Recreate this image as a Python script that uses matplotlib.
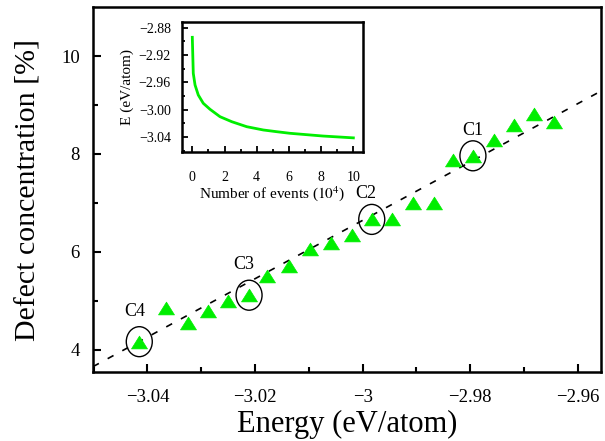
import matplotlib
matplotlib.use("Agg")
import matplotlib.pyplot as plt
from matplotlib.patches import Ellipse
from matplotlib.path import Path
from matplotlib.ticker import MultipleLocator, FuncFormatter
import numpy as np

plt.rcParams['font.family'] = ['Liberation Serif', 'DejaVu Serif']
plt.rcParams['mathtext.fontset'] = 'stix'

# Main data: energy (eV/atom) vs defect concentration (%)
energy = [-3.0415, -3.0365, -3.0324, -3.0288, -3.0251, -3.0211, -3.0178, -3.0136,
          -3.0097, -3.0059, -3.0020, -2.9983, -2.9945, -2.9906, -2.9868, -2.9832,
          -2.9795, -2.9756, -2.9719, -2.9682, -2.9645]
defect = [4.16, 4.84, 4.55, 4.79, 4.99, 5.11, 5.51, 5.71,
          6.06, 6.18, 6.34, 6.66, 6.66, 7.00, 7.00, 7.88,
          7.96, 8.28, 8.58, 8.81, 8.65]
# labelled configurations (index into the arrays)
labels = ['C1', 'C2', 'C3', 'C4']
label_idx = [16, 11, 5, 0]
# linear fit
fit_slope = 59.68
fit_intercept = 185.68

# Inset: energy vs number of events (10^4)
events = [0.0, 0.06, 0.17, 0.37, 0.68, 1.10, 1.72, 2.45, 3.38, 4.41, 5.24, 6.05, 8.10, 10.0]
e_inset = [-2.8942, -2.9467, -2.9638, -2.9784, -2.9905, -2.9993, -3.0101, -3.0174,
           -3.0247, -3.0295, -3.0320, -3.0343, -3.0383, -3.0410]

green = '#00ee00'

# slightly flattened triangle marker
tri = Path([(-1, -0.8), (1, -0.8), (0, 0.8), (-1, -0.8)],
           [Path.MOVETO, Path.LINETO, Path.LINETO, Path.CLOSEPOLY])

fig = plt.figure(figsize=(6.05, 4.41), dpi=100)
ax = fig.add_axes([93 / 605, 1 - 372.3 / 441, (601 - 93) / 605, (372.3 - 7.3) / 441])
ax.set_xlim(-3.0501, -2.9557)
ax.set_ylim(3.534, 10.996)

xx = np.array(ax.get_xlim())
ax.plot(xx, fit_slope * xx + fit_intercept, ls=(0, (4, 6)), color='black', lw=1.2, zorder=2)
ax.plot(energy, defect, ls='none', marker=tri, ms=11.5, color=green, mec=green, mew=0.5, zorder=3)

label_offsets = {'C1': (0, 18), 'C2': (-4, 19), 'C3': (-4, 22), 'C4': (-3.5, 21.5)}
for lab, i in zip(labels, label_idx):
    ax.add_patch(Ellipse((energy[i], defect[i]), width=0.00483, height=0.613,
                         fill=False, ec='black', lw=1.0, zorder=4))
    ax.annotate(lab, (energy[i], defect[i]), xytext=label_offsets[lab],
                textcoords='offset points', ha='center', va='center', fontsize=13)

ax.xaxis.set_major_locator(MultipleLocator(0.02))
ax.xaxis.set_minor_locator(MultipleLocator(0.01))
ax.yaxis.set_major_locator(MultipleLocator(2))
ax.yaxis.set_minor_locator(MultipleLocator(1))
ax.xaxis.set_major_formatter(FuncFormatter(lambda v, p: ('%g' % round(v, 4)).replace('-', '\u2212')))
ax.tick_params(which='both', direction='in', top=False, right=False, width=1.5, labelsize=13.5)
ax.tick_params(which='major', length=6)
ax.tick_params(axis='x', which='major', pad=12)
ax.tick_params(axis='y', which='major', pad=9.5)
ax.tick_params(which='minor', length=3.5)
for s in ax.spines.values():
    s.set_linewidth(1.8)
ax.set_xlabel('Energy (eV/atom)', fontsize=22, labelpad=3)
ax.set_ylabel('Defect concentration [%]', fontsize=21.5, labelpad=14)

# Inset
ins = fig.add_axes([182 / 605, 1 - 151.7 / 441, (362.7 - 182) / 605, (151.7 - 21.7) / 441])
ins.plot(events, e_inset, color=green, lw=2)
ins.set_xlim(-0.64, 10.58)
ins.set_ylim(-3.0612, -2.8714)
ins.xaxis.set_major_locator(MultipleLocator(2))
ins.xaxis.set_minor_locator(MultipleLocator(1))
ins.yaxis.set_major_locator(MultipleLocator(0.04))
ins.yaxis.set_minor_locator(MultipleLocator(0.02))
ins.yaxis.set_major_formatter(FuncFormatter(lambda v, p: ('%.2f' % v).replace('-', '\u2212')))
ins.tick_params(which='both', direction='in', top=False, right=False, width=1.3, labelsize=10)
ins.tick_params(which='major', length=4)
ins.tick_params(axis='x', which='major', pad=14)
ins.tick_params(axis='y', which='major', pad=8)
ins.tick_params(which='minor', length=2.5)
for s in ins.spines.values():
    s.set_linewidth(1.8)
ins.set_xlabel('Number of events ($10^4$)', fontsize=11, labelpad=0)
ins.set_ylabel('E (eV/atom)', fontsize=11, labelpad=3)

fig.savefig('out.png', dpi=100)
